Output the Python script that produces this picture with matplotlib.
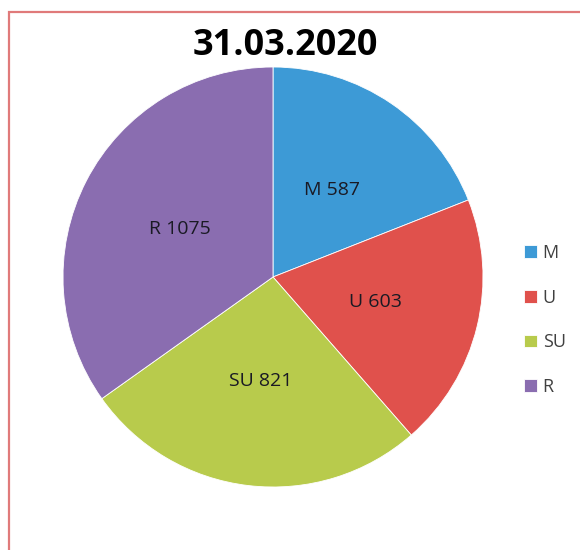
import numpy as np
import matplotlib.pyplot as plt
from matplotlib.patches import Rectangle

# data
categories = ["M", "U", "SU", "R"]
values = [587, 603, 821, 1075]
title = "31.03.2020"

colors = ["#3d9ad6", "#e0514c", "#b8cb4c", "#8a6db0"]

fig = plt.figure(figsize=(5.8, 5.5), dpi=100)
fig.patch.set_facecolor("white")

# outer frame (runs off the right/bottom edge like the reference)
fig.patches.append(Rectangle((9 / 580, -0.05), 1.2, 1 - 12 / 550 + 0.05,
                             transform=fig.transFigure, fill=False,
                             edgecolor="#e07a7a", linewidth=1.6))

ax = fig.add_axes([(273 - 210) / 580, (550 - 277 - 210) / 550,
                   420 / 580, 420 / 550])
wedges, _ = ax.pie(values, colors=colors, startangle=90, counterclock=False,
                   wedgeprops=dict(edgecolor="white", linewidth=0.6))
ax.set_xlim(-1, 1)
ax.set_ylim(-1, 1)

for w, cat, val in zip(wedges, categories, values):
    ang = np.deg2rad((w.theta1 + w.theta2) / 2)
    ax.text(0.5 * np.cos(ang), 0.5 * np.sin(ang), f"{cat} {val}",
            ha="center", va="center", fontsize=14, color="#1a1a24",
            family="Open Sans")

fig.text(285 / 580, 1 - 46 / 550, title, ha="center", va="center",
         fontsize=26, fontweight="bold", family="Open Sans")

leg = fig.legend(wedges, categories, loc="center left",
                 bbox_to_anchor=(508 / 580, 1 - 320 / 550), frameon=False,
                 handlelength=0.72, handleheight=0.72, handletextpad=0.3,
                 labelspacing=1.48,
                 prop=dict(family="Open Sans", size=13))
for t in leg.get_texts():
    t.set_color("#404040")

fig.savefig("out.png", dpi=100)
